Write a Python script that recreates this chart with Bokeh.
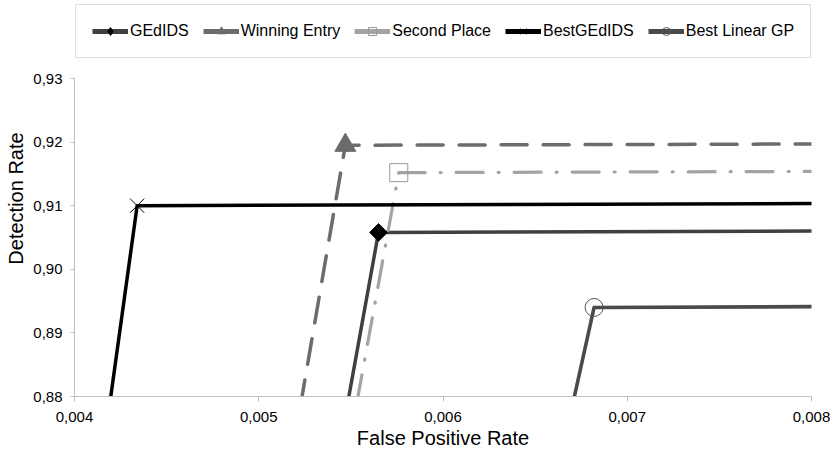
import math
from bokeh.plotting import figure
from bokeh.models import Range1d, FixedTicker, Legend, LegendItem, ColumnDataSource
from bokeh.embed import file_html
from bokeh.resources import INLINE

# ---- data (ROC curves: origin -> operating point -> (1,1)) ----
series_names = ["GEdIDS", "Winning Entry", "Second Place", "BestGEdIDS", "Best Linear GP"]
gedids_fpr = [0.0, 0.00565, 1.0]
gedids_dr = [0.0, 0.9058, 1.0]
winning_fpr = [0.0, 0.00547, 1.0]
winning_dr = [0.0, 0.9195, 1.0]
second_fpr = [0.0, 0.00576, 1.0]
second_dr = [0.0, 0.9152, 1.0]
best_gedids_fpr = [0.0, 0.00434, 1.0]
best_gedids_dr = [0.0, 0.9100, 1.0]
linear_gp_fpr = [0.0, 0.00682, 1.0]
linear_gp_dr = [0.0, 0.8940, 1.0]

x_ticks = [0.004, 0.005, 0.006, 0.007, 0.008]
x_tick_labels = ["0,004", "0,005", "0,006", "0,007", "0,008"]
y_ticks = [0.88, 0.89, 0.90, 0.91, 0.92, 0.93]
y_tick_labels = ["0,88", "0,89", "0,90", "0,91", "0,92", "0,93"]

x_title = "False Positive Rate"
y_title = "Detection Rate"

FONT = "Liberation Sans"

# layout: the frame reaches the canvas top so the legend strip lives inside it;
# the axis itself is bounded to the tick span.
W, H = 832, 455
BORDER_L, BORDER_R, BORDER_B = 74, 21, 59
GAP_TOP = 78                      # px from canvas top to the top tick
SPAN_PX = H - BORDER_B - GAP_TOP  # px covered by the tick span
y_lo, y_top_tick = y_ticks[0], y_ticks[-1]
y_hi = y_top_tick + (y_top_tick - y_lo) * GAP_TOP / SPAN_PX

p = figure(width=W, height=H,
           x_range=Range1d(x_ticks[0], x_ticks[-1]),
           y_range=Range1d(y_lo, y_hi),
           output_backend="svg", toolbar_location=None,
           min_border_left=BORDER_L, min_border_right=BORDER_R,
           min_border_top=0, min_border_bottom=BORDER_B)
p.outline_line_color = None
p.background_fill_color = "white"
p.border_fill_color = "white"
p.xgrid.visible = False
p.ygrid.visible = False

styles = [
    dict(color="#404040", width=3.5, dash="solid", marker="square", angle=math.pi / 4,
         size=12.5, mfill="#000000", mline="#000000", lmarker="diamond"),
    dict(color="#6c6c6c", width=3.5, dash="26 16", marker="triangle", angle=0,
         size=21, mfill="#6c6c6c", mline="#6c6c6c", lmarker="triangle"),
    dict(color="#a3a3a3", width=3.2, dash="27 15 1 15", marker="square", angle=0,
         size=18, mfill=None, mline="#999999", lmarker="square"),
    dict(color="#000000", width=3.5, dash="solid", marker="x", angle=0,
         size=20, mfill=None, mline="#000000", lmarker="x"),
    dict(color="#4a4a4a", width=3.6, dash="solid", marker="circle", angle=0,
         size=18, mfill=None, mline="#555555", lmarker="circle"),
]
series = [
    (gedids_fpr, gedids_dr),
    (winning_fpr, winning_dr),
    (second_fpr, second_dr),
    (best_gedids_fpr, best_gedids_dr),
    (linear_gp_fpr, linear_gp_dr),
]

NAN = float("nan")
items = []
for name, (fx, fy), st in zip(series_names, series, styles):
    p.line(fx, fy, line_color=st["color"], line_width=st["width"],
           line_dash=st["dash"], line_cap="round", line_join="round")
    p.scatter([fx[1]], [fy[1]], marker=st["marker"], size=st["size"], angle=st["angle"],
              fill_color=st["mfill"], line_color=st["mline"], line_width=1)
    # legend-only swatches (solid line + small marker); nothing is drawn in the plot
    lr = p.line("x", "y", source=ColumnDataSource(dict(x=[NAN, NAN], y=[NAN, NAN])),
                line_color=st["color"], line_width=5)
    mr = p.scatter("x", "y", source=ColumnDataSource(dict(x=[NAN], y=[NAN])),
                   marker=st["lmarker"], fill_color=st["mfill"],
                   line_color=st["mline"], line_width=1)
    items.append(LegendItem(label=name, renderers=[lr, mr]))

legend = Legend(items=items, orientation="horizontal",
                location=(1, SPAN_PX + GAP_TOP - 58),
                label_text_font=FONT, label_text_font_size="16px",
                label_text_color="#000000",
                glyph_width=36, glyph_height=20, label_height=20,
                label_standoff=2, spacing=14, padding=16, margin=0,
                border_line_color="#bfbfbf", border_line_width=1,
                background_fill_color="white", background_fill_alpha=1.0)
p.add_layout(legend)

for ax in (p.xaxis[0], p.yaxis[0]):
    ax.axis_line_color = "#c0c0c0"
    ax.major_tick_line_color = "#c0c0c0"
    ax.minor_tick_line_color = None
    ax.major_tick_in = 0
    ax.major_label_text_font = FONT
    ax.major_label_text_font_size = "15px"
    ax.major_label_text_color = "#000000"
    ax.axis_label_text_font = FONT
    ax.axis_label_text_font_size = "20px"
    ax.axis_label_text_font_style = "normal"
    ax.axis_label_text_color = "#000000"

p.xaxis.ticker = FixedTicker(ticks=x_ticks)
p.xaxis.major_label_overrides = dict(zip(x_ticks, x_tick_labels))
p.xaxis.major_tick_out = 5
p.xaxis.major_label_standoff = 10
p.xaxis.axis_label = x_title
p.xaxis.axis_label_standoff = 2

p.yaxis.ticker = FixedTicker(ticks=y_ticks)
p.yaxis.bounds = (y_lo, y_top_tick)
p.yaxis.major_label_overrides = dict(zip(y_ticks, y_tick_labels))
p.yaxis.major_tick_out = 4
p.yaxis.major_label_standoff = 8
p.yaxis.axis_label = y_title
p.yaxis.axis_label_standoff = 3

open("out.html", "w").write(file_html(p, INLINE))
